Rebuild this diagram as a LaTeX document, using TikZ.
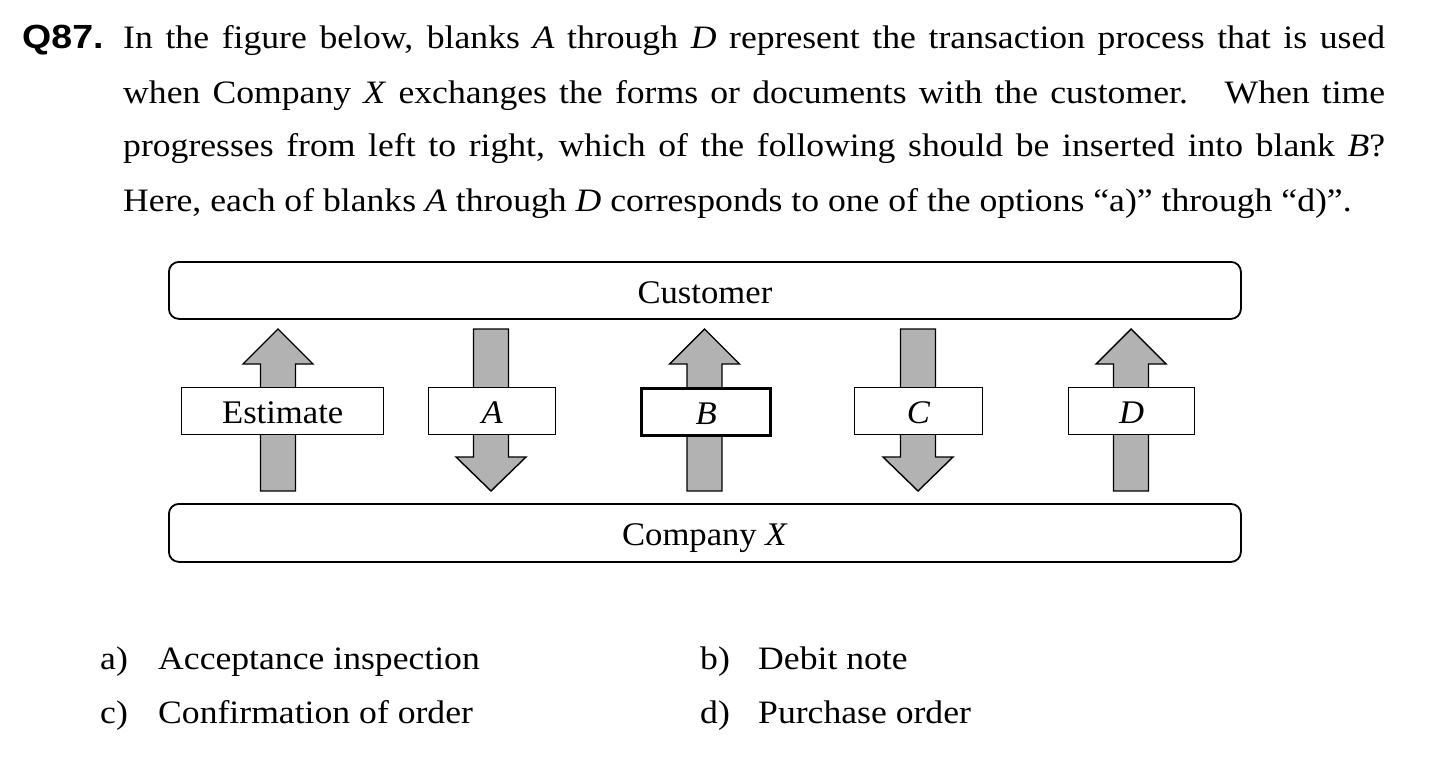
\documentclass[tikz,border=0pt]{standalone}
\usepackage{fontspec}
\setmainfont{Liberation Serif}[FakeStretch=1.09]
\newfontfamily\figfont{Liberation Serif}[FakeStretch=1.05]
\newfontfamily\qfont{Liberation Sans}[FakeStretch=1.12]
\definecolor{flowgray}{RGB}{178,178,178}
% block arrow between the two parties, centred at x = #1
\newcommand\flowup[1]{%
  \draw[flow] (#1-17.5,491) -- (#1-17.5,364) -- (#1-35,364) -- (#1,329)
    -- (#1+35,364) -- (#1+17.5,364) -- (#1+17.5,491) -- cycle;}
\newcommand\flowdown[1]{%
  \draw[flow] (#1-17.5,329) -- (#1-17.5,457) -- (#1-35,457) -- (#1,491)
    -- (#1+35,457) -- (#1+17.5,457) -- (#1+17.5,329) -- cycle;}
\begin{document}
\begin{tikzpicture}[x=1pt,y=-1pt,
  txt/.style={inner sep=0pt, anchor=base west, font=\fontsize{32.7}{38}\selectfont},
  party/.style={draw, line width=1.8pt, rounded corners=10pt, inner sep=0pt,
    anchor=north west, minimum width=1072pt, font=\figfont\fontsize{33}{38}\selectfont},
  doc/.style={draw, fill=white, line width=1.4pt, inner sep=0pt, anchor=north west,
    text height=36pt, text depth=11pt, font=\figfont\fontsize{33}{38}\selectfont},
  flow/.style={draw, line width=1.4pt, fill=flowgray, line join=miter}]
\useasboundingbox (0,0) rectangle (1450,757);

% question text
\node[txt, font=\qfont\bfseries\fontsize{33.5}{38}\selectfont] (qnum) at (22,49) {Q87.};
\node[txt] (l1) at (123,49) {\makebox[1262pt][s]{In the figure below, blanks \textit{A} through \textit{D} represent the transaction process that is used}};
\node[txt] (l2) at (123,103) {\makebox[1262pt][s]{when Company \textit{X} exchanges the forms or documents with the customer.\ \ \ When time}};
\node[txt] (l3) at (123,157) {\makebox[1262pt][s]{progresses from left to right, which of the following should be inserted into blank \textit{B}?}};
\node[txt] (l4) at (123,211) {Here, each of blanks \textit{A} through \textit{D} corresponds to one of the options “a)” through “d)”.};

% the two parties
\node[party, text height=42pt, text depth=15pt] (cust) at (168,261) {Customer};
\node[party, text height=42pt, text depth=16pt] (comp) at (168,503) {Company \textit{X}};

% flows of forms between them
\flowup{278}
\flowdown{491}
\flowup{704.5}
\flowdown{918}
\flowup{1131}

% the documents on each flow
\node[doc, minimum width=202pt] (est) at (181,387) {Estimate};
\node[doc, minimum width=127pt] (da) at (428,387) {\textit{A}};
\node[doc, minimum width=129pt, line width=3.4pt] (db) at (640,387) {\textit{B}};
\node[doc, minimum width=128pt] (dc) at (854,387) {\textit{C}};
\node[doc, minimum width=126pt] (dd) at (1068,387) {\textit{D}};

% answer options
\node[txt] (oa) at (100,669) {a)};
\node[txt] (ta) at (158,669) {Acceptance inspection};
\node[txt] (ob) at (700,669) {b)};
\node[txt] (tb) at (758,669) {Debit note};
\node[txt] (oc) at (100,723) {c)};
\node[txt] (tc) at (158,723) {Confirmation of order};
\node[txt] (od) at (700,723) {d)};
\node[txt] (td) at (758,723) {Purchase order};
\end{tikzpicture}
\end{document}
